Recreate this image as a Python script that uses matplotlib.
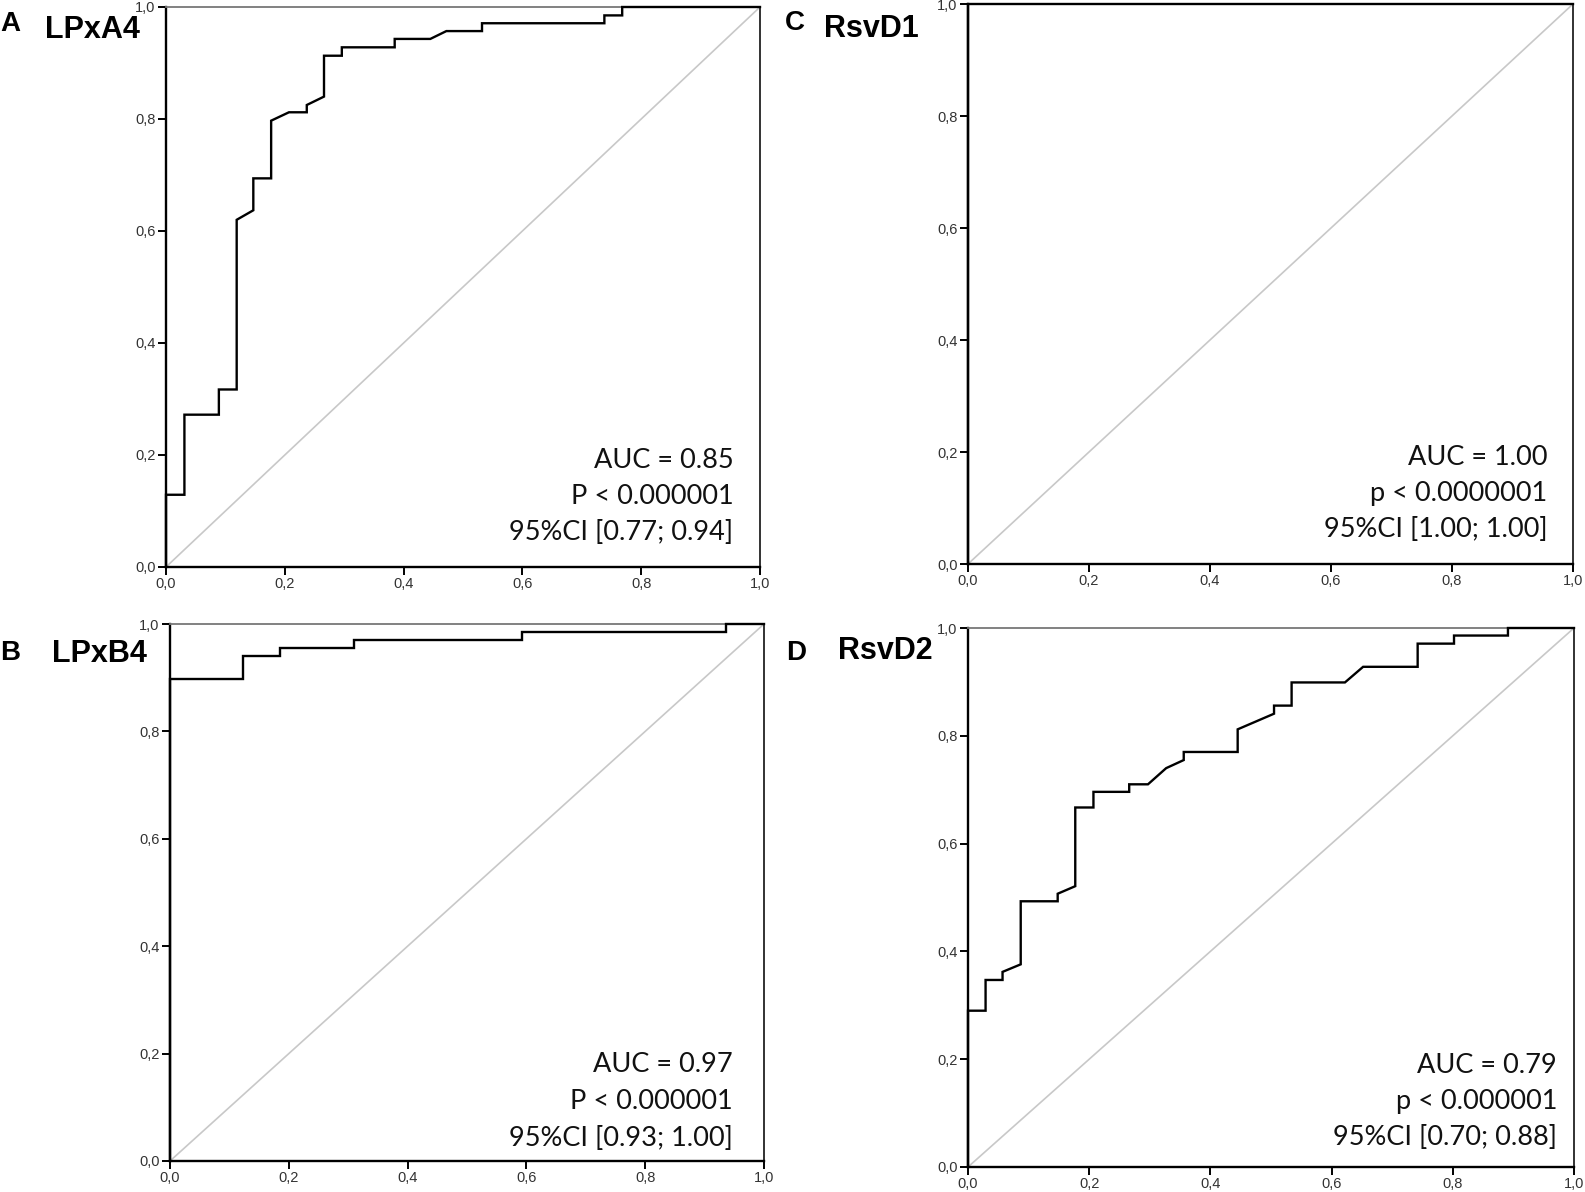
import matplotlib
matplotlib.use("Agg")
import matplotlib.pyplot as plt

# ---------------- data ----------------
fpr_A = [0, 0, 0.031, 0.031, 0.089, 0.089, 0.119, 0.119, 0.147, 0.147, 0.177, 0.177,
         0.207, 0.237, 0.237, 0.266, 0.266, 0.296, 0.296, 0.385, 0.385, 0.445, 0.472,
         0.532, 0.532, 0.738, 0.738, 0.768, 0.768, 1.0]
tpr_A = [0, 0.129, 0.129, 0.272, 0.272, 0.317, 0.317, 0.620, 0.637, 0.694, 0.694, 0.797,
         0.812, 0.812, 0.825, 0.840, 0.913, 0.913, 0.928, 0.928, 0.943, 0.943, 0.957,
         0.957, 0.971, 0.971, 0.985, 0.985, 1.0, 1.0]

fpr_B = [0, 0, 0.123, 0.123, 0.186, 0.186, 0.310, 0.310, 0.592, 0.592, 0.936, 0.936, 1.0]
tpr_B = [0, 0.897, 0.897, 0.941, 0.941, 0.956, 0.956, 0.971, 0.971, 0.985, 0.985, 1.0, 1.0]

fpr_C = [0, 0, 1.0]
tpr_C = [0, 1.0, 1.0]

fpr_D = [0, 0, 0.029, 0.029, 0.057, 0.057, 0.087, 0.087, 0.148, 0.148, 0.177, 0.177,
         0.207, 0.207, 0.266, 0.266, 0.297, 0.327, 0.356, 0.356, 0.445, 0.445, 0.505,
         0.505, 0.534, 0.534, 0.622, 0.652, 0.742, 0.742, 0.802, 0.802, 0.891, 0.891, 1.0]
tpr_D = [0, 0.290, 0.290, 0.347, 0.347, 0.362, 0.376, 0.493, 0.493, 0.507, 0.521, 0.667,
         0.667, 0.696, 0.696, 0.710, 0.710, 0.740, 0.755, 0.770, 0.770, 0.812, 0.841,
         0.856, 0.856, 0.899, 0.899, 0.928, 0.928, 0.971, 0.971, 0.986, 0.986, 1.0, 1.0]

panel_letters = ["A", "B", "C", "D"]
panel_names = ["LPxA4", "LPxB4", "RsvD1", "RsvD2"]
stats_text = [
    ["AUC = 0.85", "P < 0.000001", "95%CI [0.77; 0.94]"],
    ["AUC = 0.97", "P < 0.000001", "95%CI [0.93; 1.00]"],
    ["AUC = 1.00", "p < 0.0000001", "95%CI [1.00; 1.00]"],
    ["AUC = 0.79", "p < 0.000001", "95%CI [0.70; 0.88]"],
]
tick_vals = [0.0, 0.2, 0.4, 0.6, 0.8, 1.0]
tick_labels = ["0,0", "0,2", "0,4", "0,6", "0,8", "1,0"]

# ---------------- layout ----------------
W, H = 1585, 1192
fig = plt.figure(figsize=(W / 100, H / 100), dpi=100)
fig.patch.set_facecolor("white")

# axes boxes in pixels: left, top, right, bottom
boxes = [
    (166, 7, 760, 567),
    (170, 624, 764, 1161),
    (968, 4, 1573, 564),
    (968, 628, 1574, 1167),
]
# text placement (x rel, baselines rel)
text_pos = [
    (0.955, [0.177, 0.112, 0.048]),
    (0.948, [0.166, 0.097, 0.028]),
    (0.958, [0.177, 0.112, 0.048]),
    (0.972, [0.175, 0.108, 0.041]),
]
# title positions (letter x, letter baseline, name x, name baseline) in pixels
title_pos = [
    (0, 31, 45, 38),
    (0, 660, 52, 662),
    (785, 30, 824, 37),
    (786, 660, 838, 659),
]

curves = [(fpr_A, tpr_A), (fpr_B, tpr_B), (fpr_C, tpr_C), (fpr_D, tpr_D)]

for i in range(4):
    l, t, r, b = boxes[i]
    ax = fig.add_axes([l / W, 1 - b / H, (r - l) / W, (b - t) / H])
    ax.set_xlim(0, 1)
    ax.set_ylim(0, 1)
    ax.plot([0, 1], [0, 1], color="#c8c8c8", lw=1.2, zorder=2)
    fx, ty = curves[i]
    ax.plot(fx, ty, color="black", lw=1.7, zorder=3, clip_on=False,
            solid_joinstyle="miter")
    ax.set_xticks(tick_vals)
    ax.set_xticklabels(tick_labels)
    ax.set_yticks(tick_vals)
    ax.set_yticklabels(tick_labels)
    ax.tick_params(direction="out", length=5.5, width=1.4, colors="black",
                   labelsize=10.5, labelcolor="#333333", pad=2,
                   top=False, right=False)
    for lab in ax.get_xticklabels() + ax.get_yticklabels():
        lab.set_family("Liberation Sans")
    for s in ["left", "bottom"]:
        ax.spines[s].set_linewidth(1.7)
        ax.spines[s].set_color("black")
    ax.spines["right"].set_linewidth(1.3)
    ax.spines["right"].set_color("#222222")
    ax.spines["top"].set_linewidth(1.3)
    ax.spines["top"].set_color("#777777")

    xr, ys = text_pos[i]
    for line, yy in zip(stats_text[i], ys):
        ax.text(xr, yy, line, transform=ax.transAxes, ha="right", va="baseline",
                fontsize=19.5, family="Lato", color="#111111")

    lx, lb, nx, nb = title_pos[i]
    fig.text(lx / W, 1 - lb / H, panel_letters[i], ha="left", va="baseline",
             fontsize=20, fontweight="bold", family="Liberation Sans")
    fig.text(nx / W, 1 - nb / H, panel_names[i], ha="left", va="baseline",
             fontsize=22, fontweight="bold", family="Liberation Sans")

fig.savefig("out.png", dpi=100, facecolor="white")
